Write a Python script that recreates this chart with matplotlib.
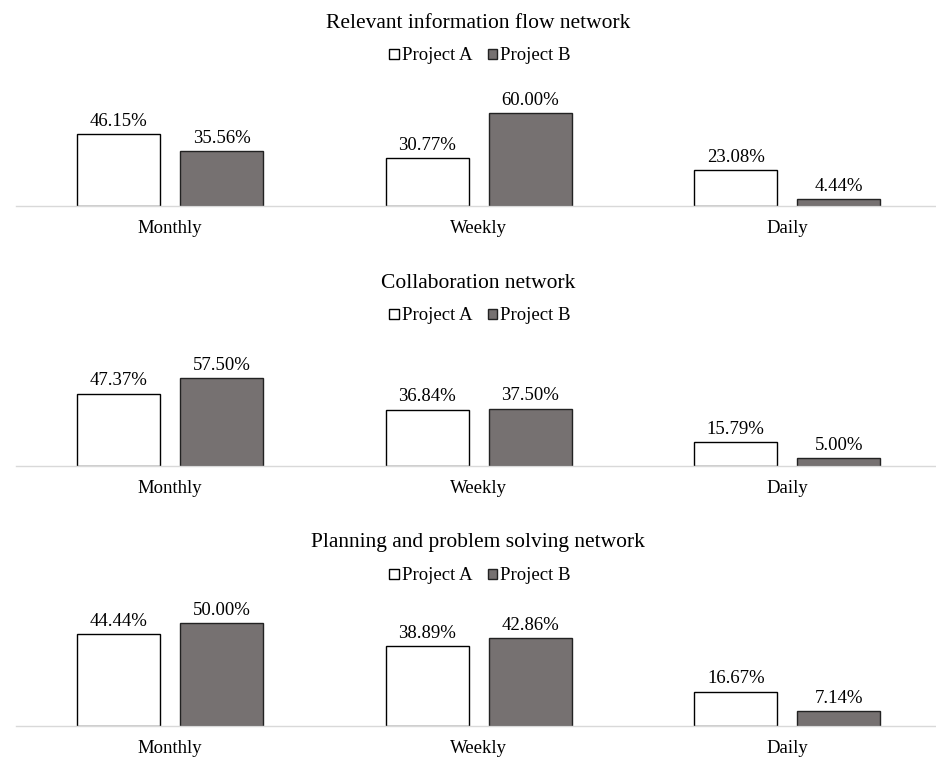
import matplotlib.pyplot as plt
import numpy as np

plt.rcParams['font.family'] = ['Liberation Serif', 'DejaVu Serif']

categories = ['Monthly', 'Weekly', 'Daily']
titles = ['Relevant information flow network',
          'Collaboration network',
          'Planning and problem solving network']
project_a = [[46.15, 30.77, 23.08],
             [47.37, 36.84, 15.79],
             [44.44, 38.89, 16.67]]
project_b = [[35.56, 60.00, 4.44],
             [57.50, 37.50, 5.00],
             [50.00, 42.86, 7.14]]
# y-axis top per panel (Excel autoscaled each panel differently)
ymax = [74.8, 75.8, 56.3]

W, H = 937, 758
fig = plt.figure(figsize=(W / 100, H / 100), dpi=100)

baselines = [206, 466, 726]
x = np.arange(len(categories))
w = 0.27
off = 0.167
left, cat_w = 16, 308.5

for i in range(3):
    b = baselines[i]
    ax = fig.add_axes([left / W, 1 - b / H, 3 * cat_w / W, 116 / H])
    ba = ax.bar(x - off, project_a[i], w, color='white', edgecolor='black',
                linewidth=1.0, label='Project A')
    bb = ax.bar(x + off, project_b[i], w, color='#767171', edgecolor='#222222',
                linewidth=1.0, label='Project B')
    for bars, vals in ((ba, project_a[i]), (bb, project_b[i])):
        for r, v in zip(bars, vals):
            ax.annotate(f'{v:.2f}%', (r.get_x() + r.get_width() / 2, v),
                        xytext=(0, 3), textcoords='offset points',
                        ha='center', va='bottom', fontsize=13.5)
    ax.set_xlim(-0.5, 2.5)
    ax.set_ylim(0, ymax[i])
    ax.set_xticks(x)
    ax.set_xticklabels(categories, fontsize=13.5)
    ax.tick_params(axis='x', length=0, pad=10)
    ax.set_yticks([])
    for s in ('top', 'right', 'left'):
        ax.spines[s].set_visible(False)
    ax.spines['bottom'].set_color('#d9d9d9')
    ax.spines['bottom'].set_linewidth(1.0)
    fig.text(478 / W, 1 - (b - 183) / H, titles[i], ha='center', va='center',
             fontsize=15.5)
    ax.legend(loc='center', bbox_to_anchor=(480 / W, 1 - (b - 150) / H),
              bbox_transform=fig.transFigure, ncol=2, frameon=False,
              fontsize=13.5, handlelength=0.5, handleheight=0.5,
              handletextpad=0.15, columnspacing=0.85)

plt.savefig('out.png', dpi=100)
